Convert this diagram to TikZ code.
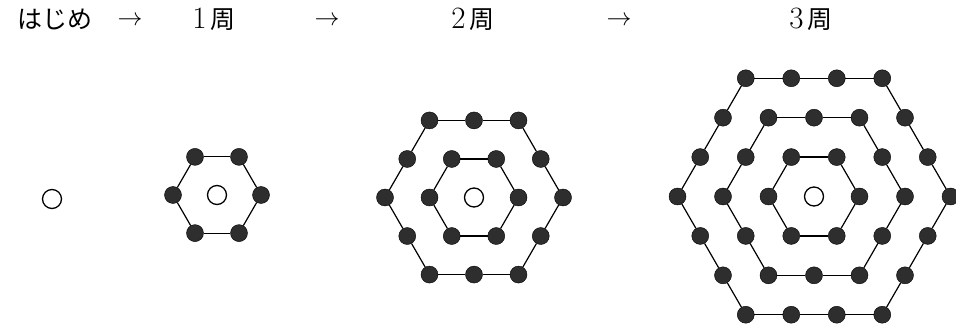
\documentclass[tikz,border=0pt]{standalone}
\usepackage{fontspec}
\newfontfamily\jpfont{Noto Sans CJK JP}
\usepackage{tikz}
\usetikzlibrary{calc}

\newcommand{\lapnum}[1]{{\fontsize{31}{31}\selectfont #1}\,{\jpfont 周}}

\begin{document}
\begin{tikzpicture}[
  x=1pt, y=-1pt,
  dot/.style={circle, draw=black, fill=black!82, minimum size=17pt, inner sep=0pt},
  hole/.style={circle, draw=black, line width=1.3pt, fill=white, minimum size=19pt, inner sep=0pt},
  edge/.style={draw=black, line width=1.2pt},
  title/.style={font=\fontsize{25}{30}\selectfont, inner sep=0pt}
]
  \useasboundingbox (0,0) rectangle (956,331);

  % heading line
  \node[title] (t0) at (54.5,19) {\jpfont はじめ};
  \node[title] (a1) at (130,21) {$\rightarrow$};
  \node[title] (t1) at (214,19) {\lapnum{1}};
  \node[title] (a2) at (327,21) {$\rightarrow$};
  \node[title] (t2) at (473,19) {\lapnum{2}};
  \node[title] (a3) at (619,21) {$\rightarrow$};
  \node[title] (t3) at (811,19) {\lapnum{3}};

  % start
  \node[hole] (c0) at (52,199) {};

  % rings of dots
  \foreach \f/\cx/\cy/\a in {1/217/195/44, 2/474/197.5/44.5, 3/814/196.5/45.5} {
    \node[hole] (c\f) at (\cx,\cy) {};
    \foreach \k in {1,...,\f} {
      \pgfmathtruncatemacro\last{6*\k-1}
      \foreach \n in {0,...,\last} {
        \pgfmathtruncatemacro\i{div(\n,\k)}
        \pgfmathtruncatemacro\j{mod(\n,\k)}
        \node[dot] (d\f-\k-\n) at ($(c\f)+(60*\i:\k*\a)+(60*\i+120:\j*\a)$) {};
      }
    }
  }

  % hexagon edges
  \foreach \f in {1,2,3} {
    \foreach \k in {1,...,\f} {
      \pgfmathtruncatemacro\last{6*\k-1}
      \foreach \n in {0,...,\last} {
        \pgfmathtruncatemacro\m{mod(\n+1,6*\k)}
        \draw[edge] (d\f-\k-\n) -- (d\f-\k-\m);
      }
    }
  }
\end{tikzpicture}
\end{document}
